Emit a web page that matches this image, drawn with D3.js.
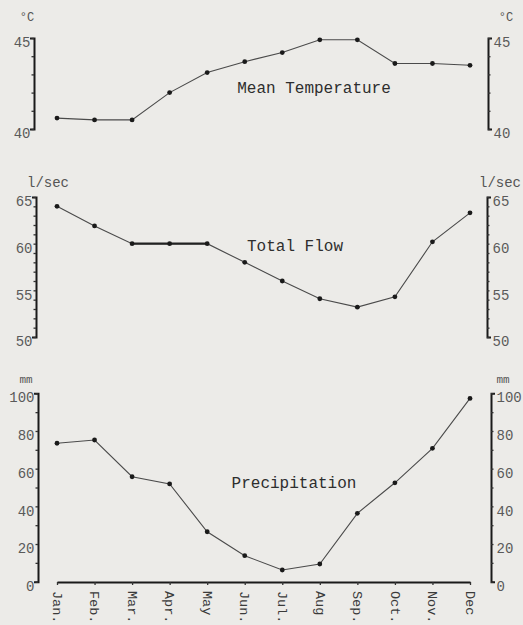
<!DOCTYPE html>
<html>
<head>
<meta charset="utf-8">
<script src="https://cdn.jsdelivr.net/npm/d3@7"></script>
<style>
  html, body { margin: 0; padding: 0; background: #ecebe8; }
  svg { display: block; }
  text { font-family: "Liberation Mono", "DejaVu Sans Mono", monospace; }
</style>
</head>
<body>
<svg id="chart" width="523" height="625"></svg>
<script>
// ---- data ----
const months = ["Jan.", "Feb.", "Mar.", "Apr.", "May", "Jun.", "Jul.", "Aug", "Sep.", "Oct.", "Nov.", "Dec"];
const meanTemperature = [40.6, 40.5, 40.5, 42.0, 43.1, 43.7, 44.2, 44.9, 44.9, 43.6, 43.6, 43.5];
const totalFlow = [64.0, 61.9, 60.0, 60.0, 60.0, 58.0, 56.0, 54.1, 53.2, 54.3, 60.2, 63.3];
const precipitation = [73.5, 75.2, 55.7, 51.9, 26.5, 13.8, 6.2, 9.4, 36.3, 52.5, 70.8, 97.3];

const tempTicks = [40, 41, 42, 43, 44, 45];
const tempLabels = [40, 45];
const flowTicks = d3.range(50, 66, 1);
const flowLabels = [50, 55, 60, 65];
const precipTicks = d3.range(0, 101, 10);
const precipLabels = [0, 20, 40, 60, 80, 100];

const svg = d3.select("#chart");
const x = d3.scalePoint().domain(months).range([57, 470]).padding(0);

const panels = [
  { name: "Mean Temperature", values: meanTemperature, domain: [40, 45], range: [129, 38],
    ticks: tempTicks, labels: tempLabels, unit: "°C", leftX: 34, rightX: 488,
    unitY: 21, unitLeftX: 27, unitRightX: 506, unitSize: 12, titleX: 314, titleY: 93, thick: null },
  { name: "Total Flow", values: totalFlow, domain: [50, 65], range: [337, 197],
    ticks: flowTicks, labels: flowLabels, unit: "l/sec", leftX: 36, rightX: 487,
    unitY: 187, unitLeftX: 48, unitRightX: 500, unitSize: 14, titleX: 295, titleY: 251, thick: [2, 4] },
  { name: "Precipitation", values: precipitation, domain: [0, 100], range: [581.7, 393.3],
    ticks: precipTicks, labels: precipLabels, unit: "mm", leftX: 38, rightX: 491,
    unitY: 383, unitLeftX: 26, unitRightX: 503, unitSize: 11, titleX: 294, titleY: 488, thick: null }
];

panels.forEach(p => {
  const y = d3.scaleLinear().domain(p.domain).range(p.range);
  const fmt = d => p.labels.includes(d) ? String(d) : "";

  const left = svg.append("g")
    .attr("transform", `translate(${p.leftX},0)`)
    .call(d3.axisLeft(y).tickValues(p.ticks).tickFormat(fmt).tickSize(2.5).tickSizeOuter(4).tickPadding(1));
  const right = svg.append("g")
    .attr("transform", `translate(${p.rightX},0)`)
    .call(d3.axisRight(y).tickValues(p.ticks).tickFormat(fmt).tickSize(2.5).tickSizeOuter(4).tickPadding(3));

  [left, right].forEach(g => {
    g.select(".domain").attr("stroke", "#1a1a1a").attr("stroke-width", 2);
    g.selectAll(".tick line").attr("stroke", "#333").attr("stroke-width", 1.3);
    g.selectAll(".tick text")
      .attr("fill", "#5a5a5a")
      .attr("font-size", 14)
      .attr("font-family", "'Liberation Mono', monospace")
      .attr("dy", "0.62em");
  });

  // unit labels
  svg.append("text").attr("x", p.unitLeftX).attr("y", p.unitY)
    .attr("text-anchor", "middle").attr("font-size", p.unitSize).attr("fill", "#555").text(p.unit);
  svg.append("text").attr("x", p.unitRightX).attr("y", p.unitY)
    .attr("text-anchor", "middle").attr("font-size", p.unitSize).attr("fill", "#555").text(p.unit);

  // line
  const line = d3.line().x((d, i) => x(months[i])).y(d => y(d));
  svg.append("path").datum(p.values)
    .attr("fill", "none").attr("stroke", "#4a4a4a").attr("stroke-width", 1.1)
    .attr("d", line);

  if (p.thick) {
    const [a, b] = p.thick;
    const seg = p.values.map((v, i) => ({ v, i })).filter(o => o.i >= a && o.i <= b);
    svg.append("path").datum(seg)
      .attr("fill", "none").attr("stroke", "#222").attr("stroke-width", 2.3)
      .attr("d", d3.line().x(o => x(months[o.i])).y(o => y(o.v)));
  }

  svg.append("g").selectAll("circle").data(p.values).join("circle")
    .attr("cx", (d, i) => x(months[i]))
    .attr("cy", d => y(d))
    .attr("r", 2.4)
    .attr("fill", "#1a1a1a");

  svg.append("text").attr("x", p.titleX).attr("y", p.titleY)
    .attr("text-anchor", "middle").attr("font-size", 16).attr("fill", "#2e2e2e")
    .text(p.name);
});

// month axis at bottom of precipitation panel
const xAxis = svg.append("g")
  .attr("transform", "translate(0,582)")
  .call(d3.axisBottom(x).tickSize(3).tickSizeOuter(0).tickPadding(0));
xAxis.select(".domain").attr("stroke", "#1a1a1a").attr("stroke-width", 2.2);
xAxis.selectAll(".tick line").attr("stroke", "#333").attr("stroke-width", 1.3);
xAxis.selectAll(".tick text")
  .attr("font-size", 13.5)
  .attr("font-family", "'Liberation Mono', monospace")
  .attr("fill", "#3a3a3a")
  .attr("text-anchor", "start")
  .attr("transform", "rotate(90)")
  .attr("x", 9)
  .attr("y", 0)
  .attr("dy", "0.35em");
</script>
</body>
</html>
